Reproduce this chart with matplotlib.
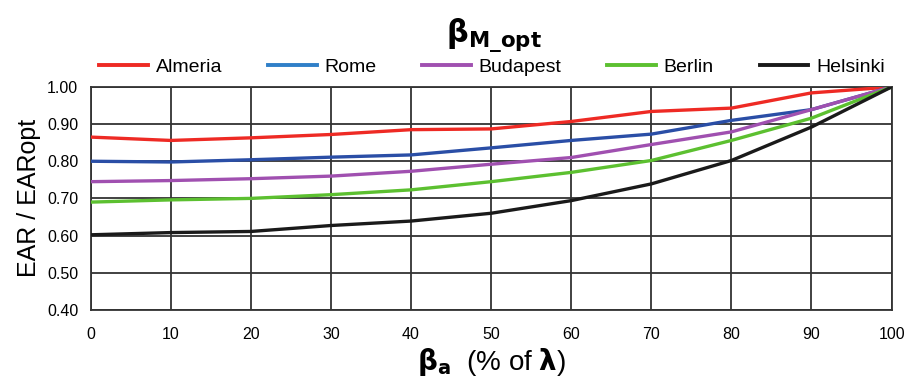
import numpy as np
import matplotlib
matplotlib.use("Agg")
from matplotlib import pyplot as plt

plt.rcParams['font.family'] = ['Liberation Sans', 'DejaVu Sans']

beta_a = [0, 10, 20, 30, 40, 50, 60, 70, 80, 90, 100]
almeria = [0.865, 0.856, 0.863, 0.872, 0.885, 0.887, 0.907, 0.934, 0.943, 0.984, 1.00]
rome = [0.800, 0.798, 0.804, 0.811, 0.817, 0.836, 0.856, 0.873, 0.910, 0.939, 1.00]
budapest = [0.745, 0.748, 0.753, 0.760, 0.773, 0.792, 0.810, 0.845, 0.879, 0.939, 1.00]
berlin = [0.690, 0.696, 0.700, 0.710, 0.723, 0.745, 0.770, 0.802, 0.856, 0.916, 1.00]
helsinki = [0.602, 0.608, 0.611, 0.627, 0.639, 0.660, 0.694, 0.739, 0.802, 0.892, 1.00]

series = [("Almeria", almeria, "#ee2a24"),
          ("Rome", rome, "#2a4ea6"),
          ("Budapest", budapest, "#a050b0"),
          ("Berlin", berlin, "#5cc030"),
          ("Helsinki", helsinki, "#1a1a1a")]
legend_colors = {"Rome": "#2f7fc8"}

fig = plt.figure(figsize=(9.07, 3.83), dpi=100)
ax = fig.add_axes([0.100, 0.191, 0.883, 0.582])

for name, vals, col in series:
    ax.plot(beta_a, vals, color=col, lw=2.4, label=name, zorder=3)

ax.set_xlim(0, 100)
ax.set_ylim(0.40, 1.00)
ax.set_xticks(beta_a)
yt = np.arange(0.40, 1.001, 0.10)
ax.set_yticks(yt)
ax.set_yticklabels(["%.2f" % v for v in yt])
ax.grid(True, color="#333333", lw=1.3)
ax.tick_params(axis="x", length=0, labelsize=11.5, pad=12)
ax.tick_params(axis="y", length=0, labelsize=11.5, pad=9)
for s in ax.spines.values():
    s.set_color("#333333")
    s.set_linewidth(1.3)

ax.set_ylabel("EAR / EARopt", fontsize=18, labelpad=4)
ax.set_xlabel(r"$\mathbf{\beta}_{\mathbf{a}}$  (% of $\mathbf{\lambda}$)",
              fontsize=20, labelpad=3)

fig.text(0.545, 0.905, r"$\mathbf{\beta}_{\mathbf{M\_opt}}$", fontsize=22,
         ha="center", va="center")

handles = []
for name, vals, col in series:
    h, = ax.plot([], [], color=legend_colors.get(name, col), lw=2.8)
    handles.append(h)
fig.legend(handles, [s[0] for s in series], loc="center",
           bbox_to_anchor=(0.09, 0.785, 0.905, 0.08), mode="expand", ncol=5,
           frameon=False, fontsize=14, handlelength=2.5, handletextpad=0.4)

plt.savefig("out.png", dpi=100)
